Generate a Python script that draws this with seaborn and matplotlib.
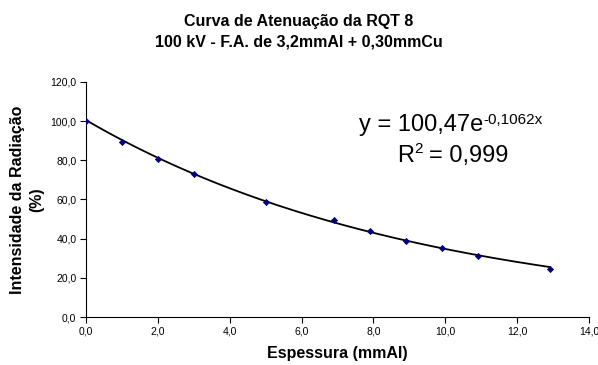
import numpy as np
import pandas as pd
import seaborn as sns
import matplotlib
matplotlib.use("Agg")
import matplotlib.pyplot as plt
from matplotlib.ticker import FuncFormatter

# data
espessura = [0.0, 1.0, 2.0, 3.0, 5.0, 6.9, 7.9, 8.9, 9.9, 10.9, 12.9]
intensidade = [100.0, 89.3, 80.6, 73.2, 58.5, 49.4, 44.0, 39.0, 35.0, 31.1, 24.6]

# exponential trendline shown on the chart
coef_a = 100.47
coef_b = -0.1062
r2_text = "0,999"

sns.set_style("ticks")
plt.rcParams["font.family"] = ["Liberation Sans", "DejaVu Sans"]
plt.rcParams["text.color"] = "black"
plt.rcParams["axes.labelcolor"] = "black"

df = pd.DataFrame({"x": espessura, "y": intensidade})
xs = np.linspace(0, max(espessura), 200)
fit = pd.DataFrame({"x": xs, "y": coef_a * np.exp(coef_b * xs)})

W, H = 598, 365
fig = plt.figure(figsize=(W / 100, H / 100), dpi=100)
ax = fig.add_axes([0.144, 0.1315, 0.841, 0.644])

sns.lineplot(data=fit, x="x", y="y", color="black", linewidth=1.3, ax=ax)
sns.scatterplot(data=df, x="x", y="y", marker="D", s=10, color="#000080",
                edgecolor="#000080", linewidth=0.5, ax=ax, zorder=3)

ax.set_xlim(0, 14)
ax.set_ylim(0, 120)
ax.set_xticks(np.arange(0, 14.1, 2))
ax.set_yticks(np.arange(0, 121, 20))
fmt = FuncFormatter(lambda v, p: f"{v:.1f}".replace(".", ","))
ax.xaxis.set_major_formatter(fmt)
ax.yaxis.set_major_formatter(fmt)
ax.tick_params(labelsize=7.5, length=4, width=0.8, colors="black", pad=3)
for s in ["left", "bottom"]:
    ax.spines[s].set_linewidth(0.8)
    ax.spines[s].set_color("black")
sns.despine(ax=ax)

ax.set_xlabel("Espessura (mmAl)", fontsize=11.5, fontweight="bold", labelpad=7)
ax.set_ylabel("Intensidade da Radiação\n(%)", fontsize=11.5, fontweight="bold",
              labelpad=4, linespacing=1.4)

fig.text(0.5, 0.912, "Curva de Atenuação da RQT 8\n100 kV - F.A. de 3,2mmAl + 0,30mmCu",
         ha="center", va="center", fontsize=11.5, fontweight="bold", linespacing=1.45)

# trendline equation with superscripts chained after the base text
eq = fig.text(359 / W, 1 - 125 / H, "y = 100,47e", ha="left", va="center", fontsize=17)
ax.annotate(f"{coef_b:.4f}x".replace(".", ","), xy=(1, 1), xycoords=eq,
            xytext=(0, 1), textcoords="offset points", ha="left", va="top",
            fontsize=11)

r = fig.text(397 / W, 1 - 156 / H, "R", ha="left", va="center", fontsize=17)
sup = ax.annotate("2", xy=(1, 1), xycoords=r, xytext=(0.5, 2),
                  textcoords="offset points", ha="left", va="top", fontsize=11)
ax.annotate("= " + r2_text, xy=(1, 0.5), xycoords=(sup, r), xytext=(4, 0),
            textcoords="offset points", ha="left", va="center", fontsize=17)

fig.savefig("out.png", dpi=100)
